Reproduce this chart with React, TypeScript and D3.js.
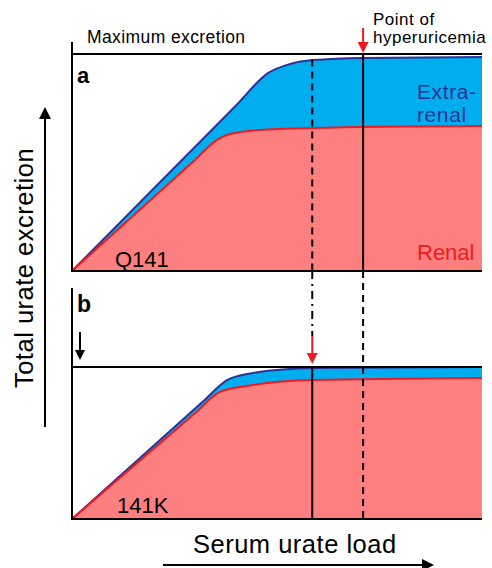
import * as d3 from "d3";

// serum urate load (0..100) vs excretion (0..100, 100 = maximum excretion)
const totalA_x = [0, 40, 47.8, 53.2, 58.8, 71, 100];
const totalA_y = [0, 76.3, 91.2, 95.4, 97.2, 98.2, 98.6];
const renalA_x = [0, 30, 35.4, 38.5, 45.9, 58.8, 100];
const renalA_y = [0, 51.2, 60.4, 63.1, 65.0, 65.9, 66.8];

const totalB_x = [0, 32, 37.8, 42.7, 58.8, 100];
const totalB_y = [0, 77.4, 91.4, 95.4, 99.3, 100];
const renalB_x = [0, 30, 36.1, 42.7, 58.8, 100];
const renalB_y = [0, 69.5, 83.6, 87.5, 91.4, 92.8];

const hyperA = 71.0; // point of hyperuricemia, Q141
const hyperB = 58.6; // point of hyperuricemia, 141K

const BLUE_FILL = "#00aeef";
const BLUE_LINE = "#2e3192";
const RED_FILL = "#fe7f7f";
const RED_LINE = "#ed1c24";
const FONT = "'Liberation Sans', Arial, Helvetica, sans-serif";

const x = d3.scaleLinear().domain([0, 100]).range([72, 482]);
const yA = d3.scaleLinear().domain([0, 100]).range([271, 54]);
const yB = d3.scaleLinear().domain([0, 100]).range([519, 367]);

function zip(xs: number[], ys: number[]): [number, number][] {
  return xs.map((v, i) => [v, ys[i]]);
}

function Panel({ tx, ty, rx, ry, y }: any) {
  const area = d3
    .area<[number, number]>()
    .x((d) => x(d[0]))
    .y0(y(0))
    .y1((d) => y(d[1]))
    .curve(d3.curveMonotoneX);
  const line = d3
    .line<[number, number]>()
    .x((d) => x(d[0]))
    .y((d) => y(d[1]))
    .curve(d3.curveMonotoneX);
  const total = zip(tx, ty);
  const renal = zip(rx, ry);
  return (
    <g>
      <path d={area(total) || ""} fill={BLUE_FILL} />
      <path d={area(renal) || ""} fill={RED_FILL} />
      <path d={line(total) || ""} fill="none" stroke={BLUE_LINE} strokeWidth={2} />
      <path d={line(renal) || ""} fill="none" stroke={RED_LINE} strokeWidth={2} />
    </g>
  );
}

function Arrow({ x1, y1, x2, y2, color, head = 10, width = 2 }: any) {
  const ang = Math.atan2(y2 - y1, x2 - x1);
  const bx = x2 - head * Math.cos(ang);
  const by = y2 - head * Math.sin(ang);
  const px = -Math.sin(ang) * head * 0.5;
  const py = Math.cos(ang) * head * 0.5;
  return (
    <g>
      <line x1={x1} y1={y1} x2={bx} y2={by} stroke={color} strokeWidth={width} />
      <path d={`M${x2},${y2}L${bx + px},${by + py}L${bx - px},${by - py}Z`} fill={color} />
    </g>
  );
}

export default function App() {
  const txt = { fontFamily: FONT, fill: "#000" };
  return (
    <div style={{ position: "absolute", left: 0, top: 0 }}>
      <svg width={492} height={568} style={{ display: "block", background: "#fff" }}>
        {/* panel a */}
        <Panel tx={totalA_x} ty={totalA_y} rx={renalA_x} ry={renalA_y} y={yA} />
        {/* panel b */}
        <Panel tx={totalB_x} ty={totalB_y} rx={renalB_x} ry={renalB_y} y={yB} />

        {/* axes frames */}
        <line x1={72} y1={42} x2={72} y2={272} stroke="#000" strokeWidth={2} />
        <line x1={71} y1={yA(0)} x2={482} y2={yA(0)} stroke="#000" strokeWidth={2} />
        <line x1={71} y1={yA(100)} x2={482} y2={yA(100)} stroke="#000" strokeWidth={2} />
        <line x1={72} y1={288} x2={72} y2={520} stroke="#000" strokeWidth={2} />
        <line x1={71} y1={yB(0)} x2={482} y2={yB(0)} stroke="#000" strokeWidth={2} />
        <line x1={71} y1={yB(100)} x2={482} y2={yB(100)} stroke="#000" strokeWidth={2} />

        {/* vertical markers */}
        <line x1={x(hyperA)} y1={yA(100)} x2={x(hyperA)} y2={yA(0)} stroke="#000" strokeWidth={2} />
        <line x1={x(hyperA)} y1={yA(0)} x2={x(hyperA)} y2={yB(0)} stroke="#000" strokeWidth={2} strokeDasharray="7 5" />
        <line x1={x(hyperB)} y1={yA(97.5)} x2={x(hyperB)} y2={yA(0)} stroke="#000" strokeWidth={2} strokeDasharray="7 5" />
        <line x1={x(hyperB)} y1={yA(0)} x2={x(hyperB)} y2={336} stroke="#000" strokeWidth={2} strokeDasharray="8 5 2 5" />
        <line x1={x(hyperB)} y1={yB(100)} x2={x(hyperB)} y2={yB(0)} stroke="#000" strokeWidth={2} />

        {/* red arrows */}
        <Arrow x1={x(hyperA)} y1={28} x2={x(hyperA)} y2={yA(100) - 1} color={RED_LINE} head={11} />
        <Arrow x1={x(hyperB)} y1={336} x2={x(hyperB)} y2={yB(100) - 3} color={RED_LINE} head={11} />
        {/* small black arrow in b */}
        <Arrow x1={80} y1={332} x2={80} y2={360} color="#000" head={10} />

        {/* axis arrows */}
        <Arrow x1={45} y1={427} x2={45} y2={107} color="#000" head={12} />
        <Arrow x1={163} y1={565} x2={434} y2={565} color="#000" head={12} />

        {/* labels */}
        <text x={87} y={43} fontSize={17.5} letterSpacing={0.4} {...txt}>Maximum excretion</text>
        <text x={373} y={25} fontSize={17} letterSpacing={0.5} {...txt}>Point of</text>
        <text x={373} y={43} fontSize={17} letterSpacing={0.5} {...txt}>hyperuricemia</text>
        <text x={77} y={83} fontSize={22} fontWeight="bold" {...txt}>a</text>
        <text x={77} y={312} fontSize={23} fontWeight="bold" {...txt}>b</text>
        <text x={417} y={99} fontSize={21} letterSpacing={0.6} fontFamily={FONT} fill={BLUE_LINE}>Extra-</text>
        <text x={417} y={122} fontSize={21} letterSpacing={0.6} fontFamily={FONT} fill={BLUE_LINE}>renal</text>
        <text x={417} y={260} fontSize={22} fontFamily={FONT} fill={RED_LINE}>Renal</text>
        <text x={115} y={267} fontSize={22} {...txt}>Q141</text>
        <text x={117} y={513} fontSize={22} {...txt}>141K</text>
        <text x={193} y={553} fontSize={25.5} letterSpacing={0.5} {...txt}>Serum urate load</text>
        <text
          transform="translate(33,268) rotate(-90)"
          textAnchor="middle"
          fontSize={25.5}
          letterSpacing={0.5}
          {...txt}
        >
          Total urate excretion
        </text>
      </svg>
    </div>
  );
}
